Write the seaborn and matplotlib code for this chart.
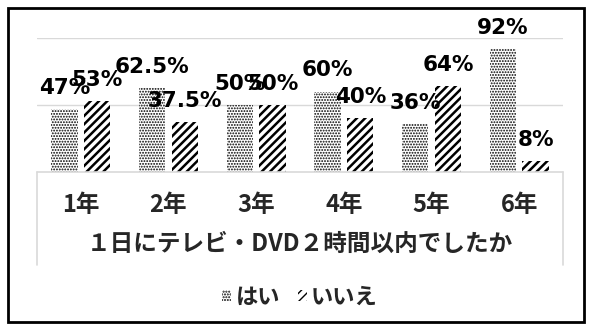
import matplotlib
matplotlib.use("Agg")
import matplotlib.pyplot as plt
from matplotlib.lines import Line2D
from matplotlib.patches import Rectangle, Patch
import seaborn as sns
import pandas as pd

grades = ["1年", "2年", "3年", "4年", "5年", "6年"]
yes_vals = [47, 62.5, 50, 60, 36, 92]
no_vals = [53, 37.5, 50, 40, 64, 8]
yes_labels = ["47%", "62.5%", "50%", "60%", "36%", "92%"]
no_labels = ["53%", "37.5%", "50%", "40%", "64%", "8%"]
series = ["はい", "いいえ"]
axis_title = "１日にテレビ・DVD２時間以内でしたか"

sns.set_style("white")
plt.rcParams['font.family'] = ['Noto Sans CJK JP', 'DejaVu Sans']
plt.rcParams['hatch.linewidth'] = 1.0

W, H = 592, 330
fig = plt.figure(figsize=(W / 100, H / 100), dpi=100)
fig.patch.set_facecolor("white")

def fx(px):
    return px / W

def fy(py):
    return 1 - py / H

ax = fig.add_axes([fx(37), fy(172), fx(563) - fx(37), fy(38) - fy(172)])

df = pd.DataFrame({
    "学年": grades * 2,
    "値": yes_vals + no_vals,
    "回答": [series[0]] * len(grades) + [series[1]] * len(grades),
})

sns.barplot(data=df, x="学年", y="値", hue="回答", order=grades, hue_order=series,
            palette=["white", "white"], width=0.75, gap=0.2, edgecolor="black",
            linewidth=0, legend=False, ax=ax)

hatches = ["......", "////"]
hatch_lws = [0.9, 1.8]
for cont, h, hlw in zip(ax.containers, hatches, hatch_lws):
    for bar in cont:
        bar.set_hatch(h)
        bar.set_edgecolor("black")
        bar.set_linewidth(0)
        if hasattr(bar, "set_hatch_linewidth"):
            bar.set_hatch_linewidth(hlw)

for cont, labs in zip(ax.containers, [yes_labels, no_labels]):
    for bar, lab in zip(cont, labs):
        ax.annotate(lab, (bar.get_x() + bar.get_width() / 2, bar.get_height()),
                    xytext=(0, 8), textcoords="offset points", ha="center", va="bottom",
                    fontsize=15.5, fontweight="bold", family=["DejaVu Sans"],
                    color="black", annotation_clip=False)

ax.set_ylim(0, 100)
ax.set_xlim(-0.5, 5.5)
ax.set_yticks([50, 100])
ax.set_yticklabels([])
ax.tick_params(axis="y", length=0)
ax.grid(axis="y", color="#d9d9d9", linewidth=1)
ax.set_axisbelow(True)
for s in ax.spines.values():
    s.set_visible(False)
ax.tick_params(axis="x", length=0, pad=15, labelsize=17)
for t in ax.get_xticklabels():
    t.set_fontweight("bold")
ax.set_xlabel(axis_title, fontsize=17, fontweight="bold", labelpad=11)
ax.set_ylabel("")
ax.patch.set_alpha(0)

# category table box
gray = "#d9d9d9"
fig.add_artist(Line2D([fx(37), fx(563)], [fy(172), fy(172)], color=gray, lw=1.2))
fig.add_artist(Line2D([fx(37), fx(37)], [fy(172), fy(265)], color=gray, lw=1.2))
fig.add_artist(Line2D([fx(563), fx(563)], [fy(172), fy(265)], color=gray, lw=1.2))

# legend
handles = [Patch(facecolor="white", edgecolor="black", linewidth=0, hatch=hatches[0]),
           Patch(facecolor="white", edgecolor="black", linewidth=0, hatch=hatches[1])]
fig.legend(handles, series, loc="center", bbox_to_anchor=(fx(300), fy(297)), ncol=2,
           frameon=False, handlelength=0.4, handleheight=0.4, handletextpad=0.2,
           columnspacing=0.8, prop={"size": 16, "weight": "bold"})

# outer border
fig.add_artist(Rectangle((fx(8), fy(322)), fx(584) - fx(8), fy(8) - fy(322),
                         fill=False, edgecolor="black", lw=2))

fig.savefig("out.png", dpi=100)
